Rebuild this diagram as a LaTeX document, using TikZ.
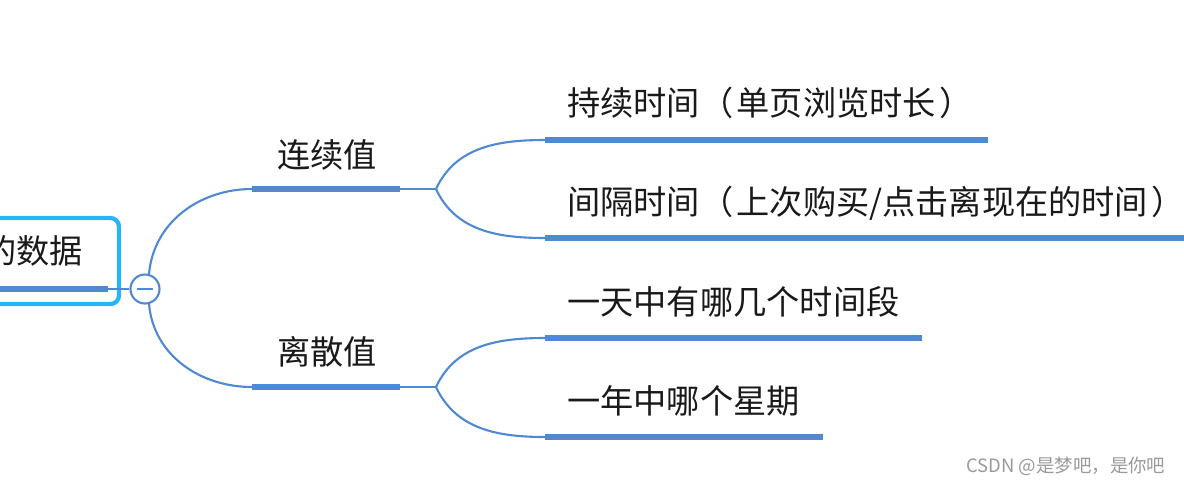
\documentclass[tikz,border=0pt]{standalone}
\usepackage{fontspec}
\setmainfont{Noto Sans CJK SC}
\usetikzlibrary{positioning}
\definecolor{mapblue}{RGB}{80,137,211}
\definecolor{rootcyan}{RGB}{38,182,246}
\tikzset{
  bar/.style={line width=3.4pt, mapblue},
  twig/.style={line width=1.2pt, mapblue},
  txt/.style={font=\fontsize{18.9}{22}\selectfont, inner sep=0pt, text=black!90},
}
\begin{document}
\begin{tikzpicture}[x=0.02cm, y=-0.02cm]
    \useasboundingbox (0,0) rectangle (1184,485);
    \clip (0,0) rectangle (1184,485);

    % root (cut at the left edge)
    \draw[rootcyan, line width=2.4pt, rounded corners=0.17cm] (-120,218) rectangle (119,304);
    \node[txt, anchor=east] (root) at (83,251) {的数据};
    \coordinate (r0) at (-10,289);
    \coordinate (r1) at (108,289);
    \draw[bar] (r0) -- (r1);
    \node[draw=mapblue, circle, line width=1.2pt, minimum size=0.58cm, inner sep=0pt, fill=white] (fold) at (145,289) {};
    \draw[mapblue, line width=1.2pt] ([xshift=-0.17cm]fold.center) -- ([xshift=0.17cm]fold.center);
    \draw[twig] (r1) -- (fold);

    % continuous values
    \coordinate (c0) at (252,189);
    \coordinate (c1) at (400,189);
    \coordinate (c2) at (436,189);
    \node[txt] (cont) at (327,155) {连续值};
    \draw[twig] (fold.75) to[out=85, in=180] (c0);
    \draw[bar] (c0) -- (c1);
    \draw[twig] (c1) -- (c2);

    % discrete values
    \coordinate (d0) at (252,387);
    \coordinate (d1) at (400,387);
    \coordinate (d2) at (436,387);
    \node[txt] (disc) at (327,352) {离散值};
    \draw[twig] (fold.-75) to[out=-85, in=180] (d0);
    \draw[bar] (d0) -- (d1);
    \draw[twig] (d1) -- (d2);

    % leaves
    \coordinate (l1a) at (545,140);  \coordinate (l1b) at (988,140);
    \coordinate (l2a) at (545,238);  \coordinate (l2b) at (1190,238);
    \coordinate (l3a) at (545,338);  \coordinate (l3b) at (922,338);
    \coordinate (l4a) at (545,437);  \coordinate (l4b) at (823,437);
    \node[txt, anchor=west] (dur) at (567,103) {持续时间（\hspace{0.1em}单页浏览时长\hspace{0.1em}）};
    \node[txt, anchor=west] (gap) at (567,203) {间隔时间（\hspace{0.1em}上次购买/点击离现在的时间\hspace{0.1em}）};
    \node[txt, anchor=west] (day) at (567,302) {一天中有哪几个时间段};
    \node[txt, anchor=west] (week) at (567,401) {一年中哪个星期};
    \draw[twig] (c2) to[out=65, in=180] (l1a);
    \draw[twig] (c2) to[out=-65, in=180] (l2a);
    \draw[twig] (d2) to[out=65, in=180] (l3a);
    \draw[twig] (d2) to[out=-65, in=180] (l4a);
    \draw[bar] (l1a) -- (l1b);
    \draw[bar] (l2a) -- (l2b);
    \draw[bar] (l3a) -- (l3b);
    \draw[bar] (l4a) -- (l4b);

    % watermark
    \node[font=\fontsize{10.5}{12}\selectfont, text=black!40, anchor=west, inner sep=0pt] (mark) at (966,466) {CSDN @是梦吧，是你吧};
\end{tikzpicture}
\end{document}
